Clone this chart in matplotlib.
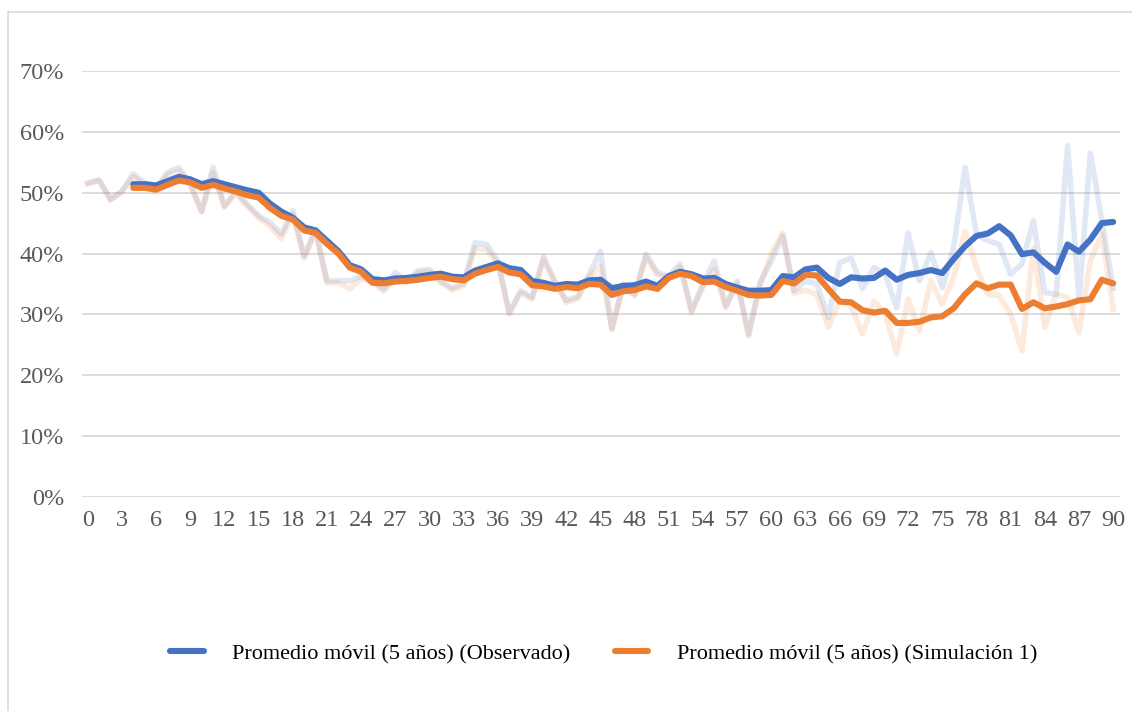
import matplotlib
matplotlib.use("Agg")
import matplotlib.pyplot as plt
from matplotlib.lines import Line2D
from matplotlib.ticker import FuncFormatter

# años 0..90
years = list(range(91))

# valores anuales (%), series claras de fondo
obs_raw = [51.6, 52.1, 48.9, 50.3, 53.1, 51.6, 50.8, 53.3, 54.1, 51.6,
           47.0, 54.2, 47.8, 50.3, 48.1, 46.2, 45.1, 43.2, 47.0, 39.6,
           44.0, 35.5, 35.6, 35.5, 36.3, 35.5, 34.2, 36.9, 35.5, 37.2,
           37.4, 35.5, 34.3, 35.1, 41.8, 41.5, 38.8, 30.3, 33.9, 32.8,
           39.5, 35.5, 32.3, 32.9, 36.6, 40.4, 27.7, 35.0, 33.3, 39.9,
           36.9, 36.3, 38.3, 30.6, 35.0, 38.8, 31.4, 35.5, 26.8, 35.2,
           38.8, 42.9, 33.9, 35.5, 35.0, 29.5, 38.5, 39.3, 34.2, 37.7,
           36.6, 31.1, 43.4, 35.5, 40.2, 34.4, 41.0, 54.1, 43.2, 42.1,
           41.5, 36.6, 38.3, 45.4, 33.6, 33.3, 57.7, 32.5, 56.5, 45.5, 34.3]

sim_raw = [51.4, 52.0, 48.8, 50.1, 52.6, 51.3, 50.5, 52.9, 53.6, 51.2,
           46.8, 53.3, 47.6, 49.9, 47.8, 45.9, 44.5, 42.5, 46.5, 39.2,
           43.6, 35.2, 35.2, 34.2, 35.9, 35.2, 33.8, 36.1, 35.2, 36.9,
           37.0, 35.2, 34.0, 34.8, 41.0, 40.6, 38.3, 30.1, 33.6, 32.5,
           39.0, 35.2, 32.0, 32.6, 36.2, 37.9, 27.5, 34.6, 33.0, 39.4,
           36.5, 36.0, 37.8, 30.3, 34.6, 37.4, 31.1, 35.1, 26.5, 34.8,
           40.0, 43.4, 33.5, 34.0, 33.3, 27.9, 32.2, 31.4, 26.8, 32.2,
           30.1, 23.5, 32.5, 27.3, 35.5, 31.7, 36.1, 43.7, 37.7, 33.3,
           33.1, 30.1, 24.0, 41.0, 27.9, 33.3, 32.8, 27.0, 38.8, 43.2, 30.9]

# promedio móvil de 5 años, desde el año 4
ma_years = list(range(4, 91))

obs_ma = [51.4, 51.4, 51.2, 51.9, 52.6, 52.2, 51.4, 51.9, 51.4, 50.9,
          50.4, 50.0, 48.2, 46.9, 45.9, 44.3, 43.8, 42.1, 40.4, 38.1,
          37.4, 35.8, 35.6, 35.9, 36.0, 36.2, 36.5, 36.7, 36.2, 36.1,
          37.2, 37.8, 38.4, 37.6, 37.3, 35.5, 35.2, 34.7, 35.0, 34.9,
          35.6, 35.7, 34.3, 34.7, 34.8, 35.4, 34.7, 36.3, 37.0, 36.6,
          35.9, 36.0, 35.0, 34.4, 33.9, 33.9, 34.0, 36.3, 36.1, 37.4,
          37.7, 36.0, 35.0, 36.1, 35.9, 36.0, 37.2, 35.7, 36.5, 36.8,
          37.3, 36.8, 39.1, 41.2, 42.9, 43.3, 44.5, 43.0, 39.9, 40.2,
          38.5, 37.0, 41.5, 40.3, 42.3, 45.0, 45.2]

sim_ma = [50.8, 50.8, 50.5, 51.3, 52.0, 51.7, 50.8, 51.3, 50.7, 50.2,
          49.6, 49.2, 47.5, 46.2, 45.6, 43.8, 43.4, 41.6, 40.0, 37.7,
          37.0, 35.2, 35.1, 35.4, 35.5, 35.7, 36.0, 36.2, 35.8, 35.6,
          36.7, 37.3, 37.8, 36.9, 36.6, 34.8, 34.6, 34.2, 34.5, 34.3,
          35.0, 34.9, 33.2, 33.8, 34.0, 34.6, 34.2, 36.0, 36.7, 36.3,
          35.3, 35.4, 34.5, 33.9, 33.2, 33.1, 33.2, 35.5, 35.1, 36.5,
          36.4, 34.2, 32.1, 32.0, 30.7, 30.3, 30.6, 28.6, 28.6, 28.8,
          29.5, 29.7, 31.0, 33.3, 35.1, 34.3, 34.9, 34.9, 30.9, 32.0,
          31.0, 31.3, 31.7, 32.3, 32.5, 35.7, 35.1]

labels = ["Promedio móvil (5 años) (Observado)",
          "Promedio móvil (5 años) (Simulación 1)"]

BLUE = "#4472C4"
ORANGE = "#ED7D31"
GREY = "#595959"

plt.rcParams['font.family'] = ['Liberation Serif', 'DejaVu Serif']

fig = plt.figure(figsize=(11.32, 7.11), dpi=100)
ax = fig.add_axes([82 / 1132, 1 - 497 / 711, (1120 - 82) / 1132, (497 - 71) / 711])

ax.plot(years, obs_raw, color=BLUE, alpha=0.16, lw=4.0, solid_joinstyle='round')
ax.plot(years, sim_raw, color=ORANGE, alpha=0.16, lw=4.0, solid_joinstyle='round')
ax.plot(ma_years, obs_ma, color=BLUE, lw=4.4, solid_capstyle='round',
        solid_joinstyle='round', label=labels[0])
ax.plot(ma_years, sim_ma, color=ORANGE, lw=4.4, solid_capstyle='round',
        solid_joinstyle='round', label=labels[1])

ax.set_xlim(-0.5, 90.6)
ax.set_ylim(0, 70)
ax.set_yticks(range(0, 71, 10))
ax.yaxis.set_major_formatter(FuncFormatter(lambda v, p: "%d%%" % v))
ax.set_xticks(range(0, 91, 3))

ax.grid(axis='y', color='#D9D9D9', lw=1.3)
ax.set_axisbelow(True)
for s in ax.spines.values():
    s.set_visible(False)
ax.tick_params(length=0, labelsize=17.5, labelcolor=GREY)
ax.tick_params(axis='y', pad=13)
ax.tick_params(axis='x', pad=9)

fig.legend(loc='center', bbox_to_anchor=(604 / 1132, 1 - 654 / 711), ncol=2,
           frameon=False, fontsize=16, handlelength=1.5, columnspacing=2.0,
           handletextpad=1.3)

# borde del área del gráfico (izquierda y arriba)
fig.add_artist(Line2D([8 / 1132, 8 / 1132], [0, 1 - 12 / 711], color='#D9D9D9', lw=1.2))
fig.add_artist(Line2D([8 / 1132, 1], [1 - 12 / 711, 1 - 12 / 711], color='#D9D9D9', lw=1.2))

fig.savefig("out.png", dpi=100)
